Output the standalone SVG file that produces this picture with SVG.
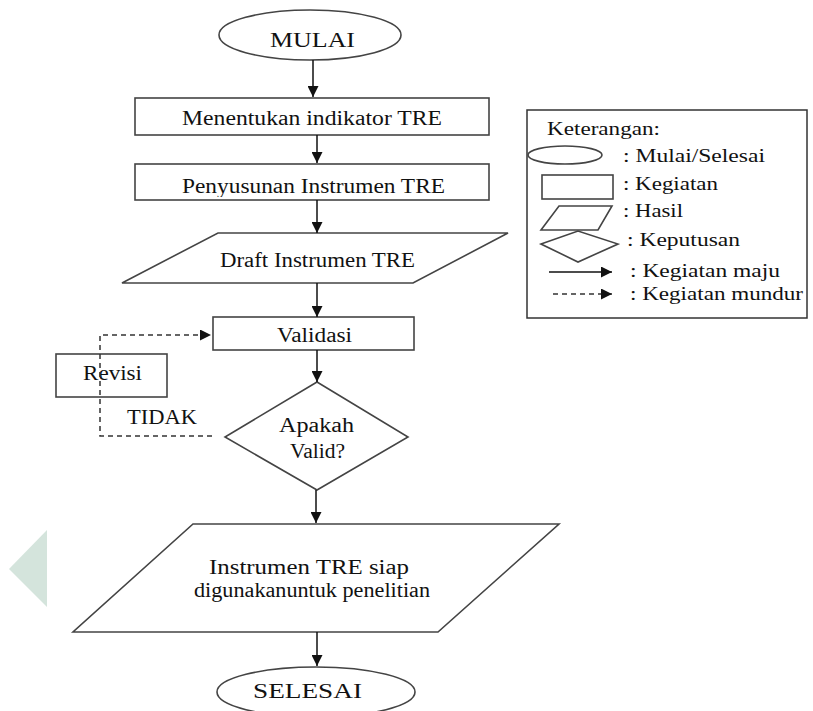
<svg xmlns="http://www.w3.org/2000/svg" width="813" height="711" viewBox="0 0 813 711">
<defs>
<marker id="ah" markerUnits="userSpaceOnUse" markerWidth="11" markerHeight="11" refX="11" refY="5.5" orient="auto">
<path d="M0,0 L11,5.5 L0,11 z" fill="#111"/>
</marker>
<clipPath id="clipP"><rect x="135" y="164" width="354" height="33"/></clipPath>
</defs>
<style>
.s{fill:#fff;stroke:#444;stroke-width:1.6}
.t{font-family:"Liberation Serif","Times New Roman",serif;font-size:20px;fill:#111}
.l{font-family:"Liberation Serif","Times New Roman",serif;font-size:18px;fill:#111}
.c{fill:none;stroke:#111;stroke-width:1.5}
.d{fill:none;stroke:#333;stroke-width:1.5;stroke-dasharray:5,4}
</style>
<rect width="813" height="711" fill="#fff"/>
<polygon points="47,530 47,607 9,569" fill="#d4e4dc"/>

<g id="mulai"><ellipse class="s" cx="310" cy="35" rx="91" ry="25"/><text class="t" x="270" y="47" textLength="85" lengthAdjust="spacingAndGlyphs">MULAI</text></g>
<g id="menentukan"><rect class="s" x="135" y="98" width="354" height="37"/><text class="t" x="182" y="125" textLength="260" lengthAdjust="spacingAndGlyphs">Menentukan indikator TRE</text></g>
<g id="penyusunan"><rect class="s" x="135" y="164" width="354" height="36"/><text class="t" x="182" y="193" textLength="263" lengthAdjust="spacingAndGlyphs" clip-path="url(#clipP)">Penyusunan Instrumen TRE</text></g>
<g id="draft"><polygon class="s" points="218,233 508,233 413,283 122,283"/><text class="t" x="220" y="267" textLength="195" lengthAdjust="spacingAndGlyphs">Draft Instrumen TRE</text></g>
<g id="validasi"><rect class="s" x="213" y="317" width="201" height="33"/><text class="t" x="277" y="342" textLength="75" lengthAdjust="spacingAndGlyphs">Validasi</text></g>
<g id="revisi"><rect class="s" x="56" y="354" width="111" height="43"/><text class="t" x="83" y="380" textLength="59" lengthAdjust="spacingAndGlyphs">Revisi</text></g>
<g id="tidak"><text class="t" x="127" y="424" textLength="70" lengthAdjust="spacingAndGlyphs">TIDAK</text></g>
<g id="apakah"><polygon class="s" points="317,382 408,437 317,490 225,437"/><text class="t" x="279" y="432" textLength="75" lengthAdjust="spacingAndGlyphs">Apakah</text><text class="t" x="290" y="458" textLength="55" lengthAdjust="spacingAndGlyphs">Valid?</text></g>
<g id="siap"><polygon class="s" points="193,524 559,524 438,632 73,632"/><text class="t" x="209" y="574" textLength="200" lengthAdjust="spacingAndGlyphs">Instrumen TRE siap</text><text class="t" x="194" y="597" textLength="236" lengthAdjust="spacingAndGlyphs">digunakanuntuk penelitian</text></g>
<g id="selesai"><ellipse class="s" cx="316" cy="692" rx="99" ry="25"/><text class="t" x="253" y="698" textLength="109" lengthAdjust="spacingAndGlyphs">SELESAI</text></g>

<g id="connectors">
<line class="c" x1="313" y1="60" x2="313" y2="97" marker-end="url(#ah)"/>
<line class="c" x1="317" y1="135" x2="317" y2="163" marker-end="url(#ah)"/>
<line class="c" x1="317" y1="200" x2="317" y2="233" marker-end="url(#ah)"/>
<line class="c" x1="317" y1="283" x2="317" y2="317" marker-end="url(#ah)"/>
<line class="c" x1="317" y1="350" x2="317" y2="382" marker-end="url(#ah)"/>
<line class="c" x1="316" y1="490" x2="316" y2="523" marker-end="url(#ah)"/>
<line class="c" x1="317" y1="632" x2="317" y2="666" marker-end="url(#ah)"/>
<path class="d" d="M212,436 H100 V335 H211" marker-end="url(#ah)"/>
</g>

<g id="legend">
<rect x="527" y="110" width="280" height="208" fill="#fff" stroke="#333" stroke-width="1.5"/>
<text class="l" x="547" y="135" textLength="113" lengthAdjust="spacingAndGlyphs">Keterangan:</text>
<ellipse class="s" cx="565" cy="155" rx="37" ry="9"/>
<text class="l" x="623" y="162" textLength="142" lengthAdjust="spacingAndGlyphs">: Mulai/Selesai</text>
<rect class="s" x="542" y="175" width="71" height="24"/>
<text class="l" x="623" y="190" textLength="95" lengthAdjust="spacingAndGlyphs">: Kegiatan</text>
<polygon class="s" points="559,206 612,206 598,230 541,230"/>
<text class="l" x="623" y="217" textLength="60" lengthAdjust="spacingAndGlyphs">: Hasil</text>
<polygon class="s" points="541,244 578,231 618,244 578,262"/>
<text class="l" x="627" y="246" textLength="113" lengthAdjust="spacingAndGlyphs">: Keputusan</text>
<line class="c" x1="549" y1="272" x2="612" y2="272" marker-end="url(#ah)"/>
<text class="l" x="630" y="277" textLength="150" lengthAdjust="spacingAndGlyphs">: Kegiatan maju</text>
<line class="d" x1="553" y1="294" x2="612" y2="294" stroke-dasharray="4,3" marker-end="url(#ah)"/>
<text class="l" x="630" y="300" textLength="173" lengthAdjust="spacingAndGlyphs">: Kegiatan mundur</text>
</g>
</svg>
